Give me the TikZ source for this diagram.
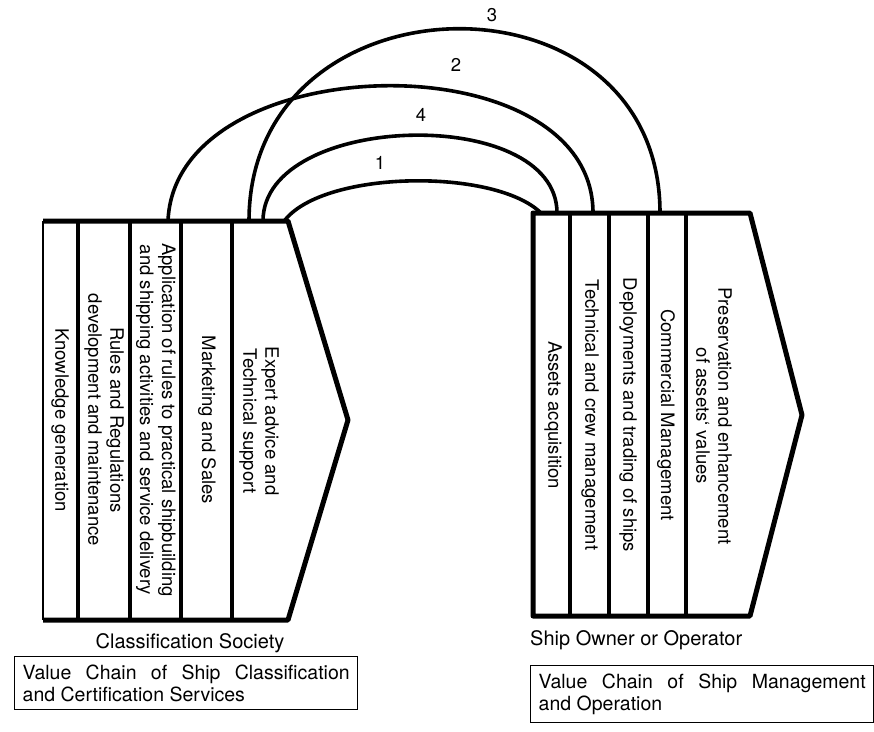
\documentclass[tikz,border=0pt]{standalone}
\usepackage{fontspec}
\setmainfont{TeX Gyre Heros}
\begin{document}
\begin{tikzpicture}[x=1pt,y=-1pt,
  outline/.style={line width=5pt, line join=round},
  thinedge/.style={line width=2.8pt},
  divider/.style={line width=4.5pt},
  link/.style={line width=3.6pt},
  coltext/.style={rotate=-90, align=center, inner sep=0pt, font=\fontsize{18.5}{22}\selectfont},
  numlabel/.style={inner sep=0pt, font=\fontsize{18.5}{22}\selectfont},
  caption/.style={inner sep=0pt, font=\fontsize{20}{22}\selectfont},
  vcbox/.style={draw, line width=1.4pt, align=justify, text width=327pt, inner xsep=8pt, inner ysep=8pt, anchor=north west, font=\fontsize{19.5}{22}\selectfont}]
\useasboundingbox (0,0) rectangle (874,731);

% left chevron
\draw[outline] (43,221) -- (288,221) -- (348,420) -- (288,620) -- (43,620);
\draw[thinedge] (43,221) -- (43,620);
\foreach \x in {78,130,181,232} \draw[divider] (\x,221) -- (\x,620);

% right chevron
\draw[outline] (533,213) -- (750,213) -- (802,415) -- (750,616) -- (533,616) -- cycle;
\foreach \x in {570,609,648,686} \draw[divider] (\x,213) -- (\x,614);

% column texts (left)
\node[coltext] (l1) at (60,420) {Knowledge generation};
\node[coltext] (l2) at (104,420) {Rules and Regulations\\development and maintenance};
\node[coltext] (l3) at (156,420) {Application of rules to practical shipbuilding\\and shipping activities and service delivery};
\node[coltext] (l4) at (207,420) {Marketing and Sales};
\node[coltext] (l5) at (259,421) {Expert advice and\\Technical support};

% column texts (right)
\node[coltext] (r1) at (553,415) {Assets acquisition};
\node[coltext] (r2) at (590,415) {Technical and crew management};
\node[coltext] (r3) at (628,415) {Deployments and trading of ships};
\node[coltext] (r4) at (666,415) {Commercial Management};
\node[coltext] (r5) at (714,416) {Preservation and enhancement\\of assets` values};

% arc end points
\coordinate (a1s) at (285,220);
\coordinate (a1e) at (541,213);
\coordinate (a4s) at (263,221);
\coordinate (a4e) at (557,213);
\coordinate (a2s) at (168,221);
\coordinate (a2e) at (593,213);
\coordinate (a3s) at (249,221);
\coordinate (a3e) at (660,213);

\draw[link] (a1s) .. controls (325,170) and (495,168) .. (a1e);
\draw[link] (a4s) .. controls (263,112) and (557,104) .. (a4e);
\draw[link] (a2s) .. controls (175,46) and (593,38) .. (a2e);
\draw[link] (a3s) .. controls (249,-30) and (660,-38) .. (a3e);

\node[numlabel] (n1) at (380,163) {1};
\node[numlabel] (n4) at (421,115) {4};
\node[numlabel] (n2) at (456,65) {2};
\node[numlabel] (n3) at (492,15) {3};

% captions
\node[caption] (cs) at (190,643) {Classification Society};
\node[caption, anchor=west] (so) at (530,640) {Ship Owner or Operator};

\node[vcbox] (vc1) at (14,656) {Value Chain of Ship Classification\linebreak and Certification Services};
\node[vcbox] (vc2) at (530,665) {Value Chain of Ship Management\linebreak and Operation};
\end{tikzpicture}
\end{document}
